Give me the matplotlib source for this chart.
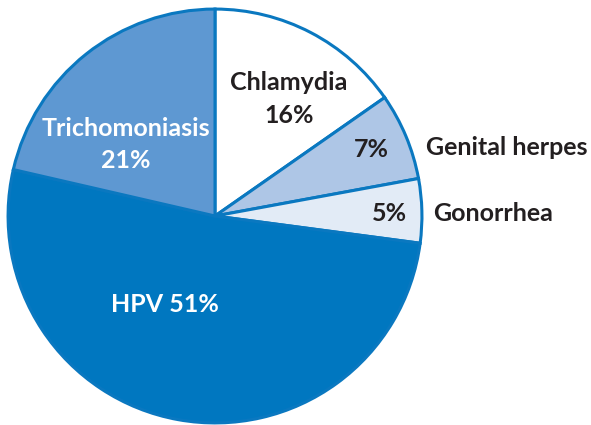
import matplotlib
matplotlib.use('Agg')
import matplotlib.pyplot as plt

labels = ['Chlamydia', 'Genital herpes', 'Gonorrhea', 'HPV', 'Trichomoniasis']
# wedge sizes as drawn in the picture, and the rounded shares printed on it
sizes = [15.3, 6.8, 5.0, 51.5, 21.4]
shares = [16, 7, 5, 51, 21]
colors = ['#ffffff', '#aec6e6', '#e2ebf6', '#0077c0', '#5e98d2']

plt.rcParams['font.family'] = ['Lato', 'DejaVu Sans']

fig = plt.figure(figsize=(5.91, 4.25), dpi=100)
ax = fig.add_axes([6 / 591, 0, 418 / 591, 418 / 425])
ax.pie(sizes, colors=colors, startangle=90, counterclock=False, radius=1,
       wedgeprops=dict(edgecolor='#0a78c0', linewidth=2.2))
ax.set_xlim(-1.01, 1.01)
ax.set_ylim(-1.01, 1.01)
ax.set_aspect('equal')

dark = '#231f20'
kw = dict(fontsize=18, fontweight='bold', va='center')
ax.text(0.357, 0.643, labels[0], color=dark, ha='center', **kw)
ax.text(0.357, 0.488, f'{shares[0]}%', color=dark, ha='center', **kw)
ax.text(0.758, 0.319, f'{shares[1]}%', color=dark, ha='center', **kw)
ax.text(1.019, 0.329, labels[1], color=dark, ha='left', **kw)
ax.text(0.841, 0.01, f'{shares[2]}%', color=dark, ha='center', **kw)
ax.text(1.053, 0.01, labels[2], color=dark, ha='left', **kw)
ax.text(-0.43, 0.425, labels[4], color='white', ha='center', **kw)
ax.text(-0.43, 0.27, f'{shares[4]}%', color='white', ha='center', **kw)
ax.text(-0.242, -0.43, f'{labels[3]} {shares[3]}%', color='white', ha='center', **kw)

fig.savefig('out.png', dpi=100)
